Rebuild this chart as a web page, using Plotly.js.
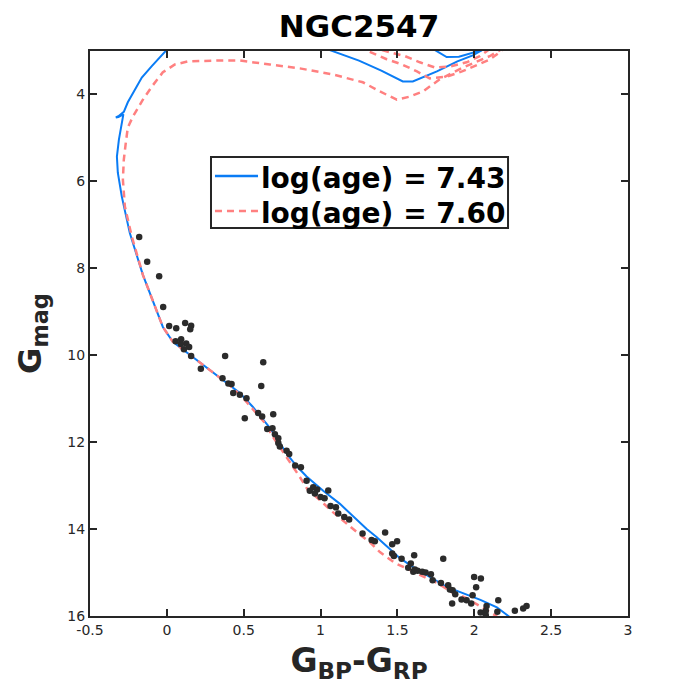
<!DOCTYPE html>
<html>
<head>
<meta charset="utf-8">
<script src="https://cdn.plot.ly/plotly-3.0.1.min.js"></script>
<style>
  html, body { margin: 0; padding: 0; background: #ffffff; }
  #chart { width: 694px; height: 694px; }
</style>
</head>
<body>
<div id="chart"></div>
<script>
// Isochrone log(age) = 7.43 : main sequence + turn-off, then two giant-branch loops (null splits segments)
const iso743X = [2.24, 2.147, 2.04, 1.906, 1.82, 1.60, 1.516, 1.438, 1.364, 1.30, 1.212, 1.126, 1.017, 0.96, 0.909,
  0.844, 0.787, 0.67, 0.56, 0.475, 0.39, 0.234, 0.13, 0.039, -0.026, -0.091, -0.156, -0.241, -0.26, -0.293,
  -0.319, -0.325, -0.312, -0.293, -0.283, -0.315, -0.332, -0.315, -0.28, -0.254, -0.208, -0.163, -0.098,
  -0.013, 0.0,
  null,
  1.06, 1.25, 1.395, 1.535, 1.60, 1.757, 1.89, 1.99, 2.05,
  null,
  1.745, 1.82, 1.90, 1.99, 2.05];
const iso743Y = [16.05, 15.80, 15.63, 15.45, 15.33, 14.87, 14.67, 14.42, 14.18, 14.0, 13.71, 13.42, 13.12, 12.95, 12.79,
  12.55, 12.30, 11.67, 11.19, 10.87, 10.64, 10.22, 9.94, 9.69, 9.35, 8.77, 8.15, 7.19, 6.88, 6.35,
  5.80, 5.43, 5.04, 4.65, 4.46, 4.52, 4.53, 4.50, 4.40, 4.18, 3.88, 3.61, 3.35,
  3.01, 2.97,
  null,
  2.98, 3.22, 3.45, 3.70, 3.70, 3.47, 3.24, 3.10, 2.98,
  null,
  2.98, 3.14, 3.13, 3.05, 2.98];

// Isochrone log(age) = 7.60
const iso760X = [2.16, 2.134, 2.036, 1.95, 1.854, 1.757, 1.58, 1.483, 1.386, 1.32, 1.243, 1.158, 1.08, 0.995,
  0.917, 0.865, 0.813, 0.755, 0.69, 0.638, 0.573, 0.507, 0.43, 0.345, 0.234, 0.13, 0.039, -0.026, -0.091,
  -0.156, -0.228, -0.273, -0.286, -0.28, -0.267, -0.254, -0.221, -0.156, -0.098, -0.026, 0.052, 0.137,
  0.332, 0.475, 0.67, 0.865, 1.08, 1.275, 1.386, 1.496, 1.58, 1.666, 1.776, 1.926, 2.10, 2.167,
  null,
  1.32, 1.43, 1.53, 1.627, 1.71, 1.82, 1.92, 2.02, 2.10, 2.153, 2.18,
  null,
  1.40, 1.55, 1.646, 1.744, 1.84, 1.95, 2.036, 2.09];
const iso760Y = [16.05, 15.98, 15.77, 15.59, 15.45, 15.24, 14.94, 14.78, 14.53, 14.30, 14.09, 13.84, 13.61, 13.33,
  13.10, 12.80, 12.53, 12.23, 11.88, 11.56, 11.30, 11.03, 10.75, 10.52, 10.22, 9.94, 9.69, 9.35, 8.77,
  8.15, 7.27, 6.58, 5.96, 5.50, 5.11, 4.76, 4.51, 4.12, 3.82, 3.49, 3.31, 3.24,
  3.22, 3.22, 3.31, 3.40, 3.54, 3.72, 3.93, 4.12, 4.05, 3.93, 3.65, 3.38, 3.12, 2.98,
  null,
  3.02, 3.19, 3.31, 3.47, 3.63, 3.59, 3.47, 3.31, 3.20, 3.06, 2.98,
  null,
  2.98, 3.12, 3.26, 3.38, 3.36, 3.26, 3.12, 2.98];

// Cluster members: colour G_BP-G_RP and magnitude G
const starColor = [-0.180, -0.128, -0.050, -0.024, 0.015, 0.061, 0.119, 0.158, 0.152, 0.093, 0.057, 0.126,
  0.091, 0.145, 0.111, 0.158, 0.379, 0.221, 0.362, 0.400, 0.421, 0.432, 0.475, 0.518, 0.627, 0.614,
  0.507, 0.692, 0.594, 0.620, 0.653, 0.687, 0.703, 0.725, 0.725, 0.735, 0.779, 0.796, 0.835, 0.872,
  0.909, 0.952, 0.978, 0.930, 0.963, 1.050, 1.000, 1.026, 1.065, 1.100, 1.115, 1.154, 1.186, 1.273,
  1.420, 1.332, 1.353, 1.466, 1.498, 1.466, 1.477, 1.527, 1.609, 1.587, 1.570, 1.603, 1.613, 1.631,
  1.661, 1.683, 1.718, 1.729, 1.798, 1.783, 1.830, 1.841, 1.859, 1.876, 1.856, 1.917, 1.950, 1.989,
  1.999, 2.043, 2.012, 1.980, 2.041, 2.075, 2.080, 2.075, 2.156, 2.150, 2.264, 2.318, 2.340];
const starMag = [7.28, 7.85, 8.18, 8.89, 9.33, 9.38, 9.26, 9.32, 9.40, 9.63, 9.68, 9.73,
  9.74, 9.81, 9.86, 10.02, 10.02, 10.31, 10.53, 10.65, 10.66, 10.87, 10.91, 10.99, 10.16, 10.71,
  11.45, 11.36, 11.33, 11.41, 11.70, 11.68, 11.82, 11.91, 12.02, 12.10, 12.20, 12.27, 12.54, 12.58,
  12.89, 13.04, 13.09, 13.12, 13.18, 13.11, 13.26, 13.29, 13.47, 13.50, 13.64, 13.72, 13.78, 14.10,
  14.08, 14.25, 14.28, 14.35, 14.28, 14.56, 14.62, 14.68, 14.60, 14.79, 14.89, 14.98, 14.93, 14.96,
  14.98, 15.00, 15.04, 15.18, 14.68, 15.24, 15.29, 15.39, 15.41, 15.50, 15.71, 15.62, 15.64, 15.52,
  15.10, 15.14, 15.34, 15.71, 15.92, 15.88, 15.77, 15.98, 15.64, 15.90, 15.88, 15.83, 15.77];

const xTicks = [-0.5, 0, 0.5, 1, 1.5, 2, 2.5, 3];
const xTickText = ['-0.5', '0', '0.5', '1', '1.5', '2', '2.5', '3'];
const yTicks = [4, 6, 8, 10, 12, 14, 16];
const seriesNames = ['log(age) = 7.43', 'log(age) = 7.60'];

const axisColor = '#262626';
const FONT = 'DejaVu Sans, Liberation Sans, sans-serif';
const blue = '#0a7cf5';
const pink = '#ff8080';

const traces = [
  {
    x: iso743X, y: iso743Y, type: 'scatter', mode: 'lines', name: seriesNames[0],
    line: { color: blue, width: 2 }, connectgaps: false, showlegend: false
  },
  {
    x: iso760X, y: iso760Y, type: 'scatter', mode: 'lines', name: seriesNames[1],
    line: { color: pink, width: 2.5, dash: '7px,5px' }, connectgaps: false, showlegend: false
  },
  {
    x: starColor, y: starMag, type: 'scatter', mode: 'markers', showlegend: false,
    marker: { color: '#2b2b2b', size: 6.5 }
  }
];

const axisCommon = {
  showgrid: false, zeroline: false, showline: true, linecolor: axisColor, linewidth: 2,
  mirror: 'ticks', ticks: 'inside', ticklen: 7, tickwidth: 2, tickcolor: axisColor,
  tickfont: { family: FONT, size: 14, color: axisColor }
};

// Boxed key placed inside the plot area (paper coordinates)
const key = { x0: 0.2249, x1: 0.777, yTop: 0.8124, yBot: 0.6867,
  rows: [0.7788, 0.7168], lineX0: 0.2323, lineX1: 0.3123, textX: 0.3143 };

const shapes = [
  { type: 'rect', xref: 'paper', yref: 'paper', x0: key.x0, x1: key.x1, y0: key.yBot, y1: key.yTop,
    fillcolor: '#ffffff', line: { color: axisColor, width: 2 }, layer: 'above' },
  { type: 'line', xref: 'paper', yref: 'paper', x0: key.lineX0, x1: key.lineX1, y0: key.rows[0], y1: key.rows[0],
    line: { color: blue, width: 2.5 }, layer: 'above' },
  { type: 'line', xref: 'paper', yref: 'paper', x0: key.lineX0, x1: key.lineX1, y0: key.rows[1], y1: key.rows[1],
    line: { color: pink, width: 2.5, dash: '7px,5px' }, layer: 'above' }
];

const annotations = seriesNames.map((name, i) => ({
  xref: 'paper', yref: 'paper', x: key.textX, y: key.rows[i] - 0.004, xanchor: 'left', yanchor: 'middle',
  text: name, showarrow: false,
  font: { family: FONT, size: 28, weight: 'bold', color: '#000000' }
}));

const layout = {
  width: 694, height: 694,
  margin: { l: 90, r: 66, t: 51, b: 78 },
  paper_bgcolor: '#ffffff', plot_bgcolor: '#ffffff',
  title: {
    text: 'NGC2547', xref: 'paper', x: 0.5, xanchor: 'center', y: 0.962, yanchor: 'middle',
    font: { family: FONT, size: 31, weight: 'bold', color: '#000000' }
  },
  xaxis: Object.assign({}, axisCommon, {
    range: [-0.5, 3], tickmode: 'array', tickvals: xTicks, ticktext: xTickText,
    title: { text: 'G<sub>BP</sub>-G<sub>RP</sub>', standoff: 12,
      font: { family: FONT, size: 33, weight: 'bold', color: axisColor } }
  }),
  yaxis: Object.assign({}, axisCommon, {
    range: [16, 3], tickmode: 'array', tickvals: yTicks,
    title: { text: 'G<sub>mag</sub>', standoff: 16,
      font: { family: FONT, size: 32, weight: 'bold', color: axisColor } }
  }),
  showlegend: false,
  shapes: shapes,
  annotations: annotations
};

Plotly.newPlot('chart', traces, layout, { displayModeBar: false, staticPlot: true });
</script>
</body>
</html>
